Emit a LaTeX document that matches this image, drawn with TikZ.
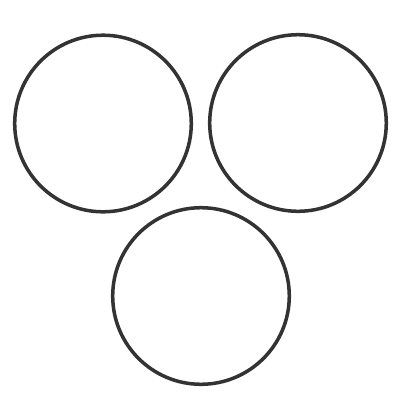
\documentclass[tikz,border=0pt]{standalone}
\usepackage{tikz}
\definecolor{ringgray}{HTML}{333333}

\begin{document}
\begin{tikzpicture}
\tikzset{ring/.style={draw=ringgray, line width=1pt, circle, minimum size=1.766cm, inner sep=0pt}}
\useasboundingbox (0,0) rectangle (4,4);

% two rings on top
\node[ring] (left) at (1.03,2.765) {};
\node[ring] (right) at (2.98,2.77) {};

% one ring below
\node[ring] (bottom) at (2.01,1.04) {};
\end{tikzpicture}
\end{document}
